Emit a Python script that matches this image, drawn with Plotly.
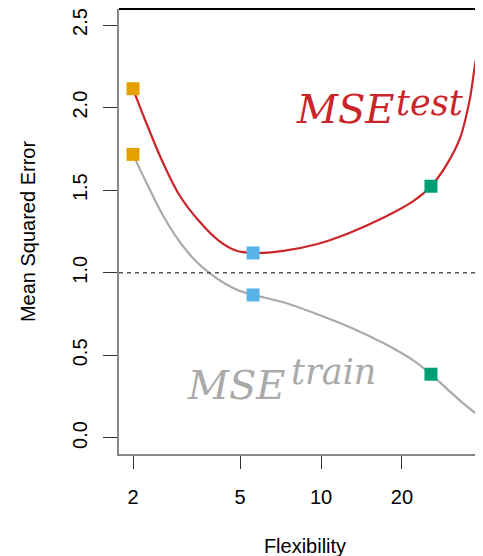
import math
import plotly.graph_objects as go

# Data
x_test = [2.0, 2.23, 2.57, 2.965, 3.52, 4.175, 4.82, 5.59, 7.24, 9.63, 12.81, 17.04, 22.03, 25.63, 29.33, 32.86, 35.8, 37.36, 39.0]
y_test = [2.114, 1.916, 1.675, 1.474, 1.313, 1.193, 1.135, 1.120, 1.133, 1.173, 1.243, 1.333, 1.434, 1.524, 1.655, 1.815, 2.056, 2.257, 2.417]

x_train = [2.0, 2.23, 2.57, 2.965, 3.42, 3.855, 4.42, 4.955, 5.59, 7.24, 9.63, 12.81, 17.04, 22.03, 25.63, 29.33, 33.8, 39.0]
y_train = [1.717, 1.554, 1.354, 1.193, 1.072, 0.998, 0.932, 0.892, 0.866, 0.822, 0.751, 0.671, 0.575, 0.470, 0.386, 0.299, 0.209, 0.129]

marker_x = [2.0, 5.59, 25.63]
marker_test = [2.114, 1.120, 1.524]
marker_train = [1.717, 0.866, 0.386]
marker_colors = ["#E69F00", "#56B4E9", "#009E73"]

x_ticks = [2, 5, 10, 20]
y_ticks = [0.0, 0.5, 1.0, 1.5, 2.0, 2.5]
ref_level = 1.0

RED = "#CC2529"
GRAY = "#AAAAAA"

fig = go.Figure()

fig.add_hline(y=ref_level, line=dict(color="#555555", width=1.5, dash="4px,4px"))

fig.add_trace(go.Scatter(x=x_train, y=y_train, mode="lines",
                         line=dict(color=GRAY, width=2.2, shape="spline", smoothing=0.8),
                         showlegend=False, hoverinfo="skip"))
fig.add_trace(go.Scatter(x=x_test, y=y_test, mode="lines",
                         line=dict(color=RED, width=2.2, shape="spline", smoothing=0.8),
                         showlegend=False, hoverinfo="skip"))
fig.add_trace(go.Scatter(x=marker_x, y=marker_test, mode="markers",
                         marker=dict(symbol="square", size=13, color=marker_colors, line=dict(width=0)),
                         showlegend=False))
fig.add_trace(go.Scatter(x=marker_x, y=marker_train, mode="markers",
                         marker=dict(symbol="square", size=13, color=marker_colors, line=dict(width=0)),
                         showlegend=False))

serif = "DejaVu Serif"
L = math.log10
fig.add_annotation(x=L(12.3), y=1.99, text="<i>MSE</i>", showarrow=False,
                   font=dict(family=serif, size=40, color=RED), xanchor="center", yanchor="middle")
fig.add_annotation(x=L(25.4), y=2.03, text="<i>test</i>", showarrow=False,
                   font=dict(family=serif, size=35, color=RED), xanchor="center", yanchor="middle")
fig.add_annotation(x=L(4.87), y=0.32, text="<i>MSE</i>", showarrow=False,
                   font=dict(family=serif, size=40, color=GRAY), xanchor="center", yanchor="middle")
fig.add_annotation(x=L(11.1), y=0.40, text="<i>train</i>", showarrow=False,
                   font=dict(family=serif, size=35, color=GRAY), xanchor="center", yanchor="middle")

# top frame line
fig.add_shape(type="line", xref="paper", yref="paper", x0=0, x1=1, y0=1, y1=1,
              line=dict(color="black", width=2), layer="above")

fig.update_layout(
    width=483, height=556,
    margin=dict(l=111, r=0, t=1, b=110),
    plot_bgcolor="white", paper_bgcolor="white",
    font=dict(family="Liberation Sans", size=20, color="black"),
    showlegend=False,
)
fig.update_xaxes(type="log", range=[0.249, 1.632], automargin=False,
                 tickvals=x_ticks, ticktext=[str(v) for v in x_ticks],
                 showgrid=False, zeroline=False,
                 showline=True, linecolor="#888888", linewidth=1.5,
                 ticks="outside", ticklen=13, tickcolor="#333333", tickwidth=1.2,
                 ticklabelstandoff=11, ticklabeloverflow="allow",
                 title=dict(text="Flexibility", font=dict(size=20), standoff=32))
fig.update_yaxes(range=[-0.097, 2.597], automargin=False,
                 tickvals=y_ticks, ticktext=[f"{v:.1f}" for v in y_ticks],
                 tickangle=-90,
                 showgrid=False, zeroline=False,
                 showline=True, linecolor="#888888", linewidth=1.5,
                 ticks="outside", ticklen=14, tickcolor="#333333", tickwidth=1.2,
                 ticklabelstandoff=8, ticklabeloverflow="allow",
                 title=dict(text="Mean Squared Error", font=dict(size=20), standoff=28))

fig.write_html("out.html")
